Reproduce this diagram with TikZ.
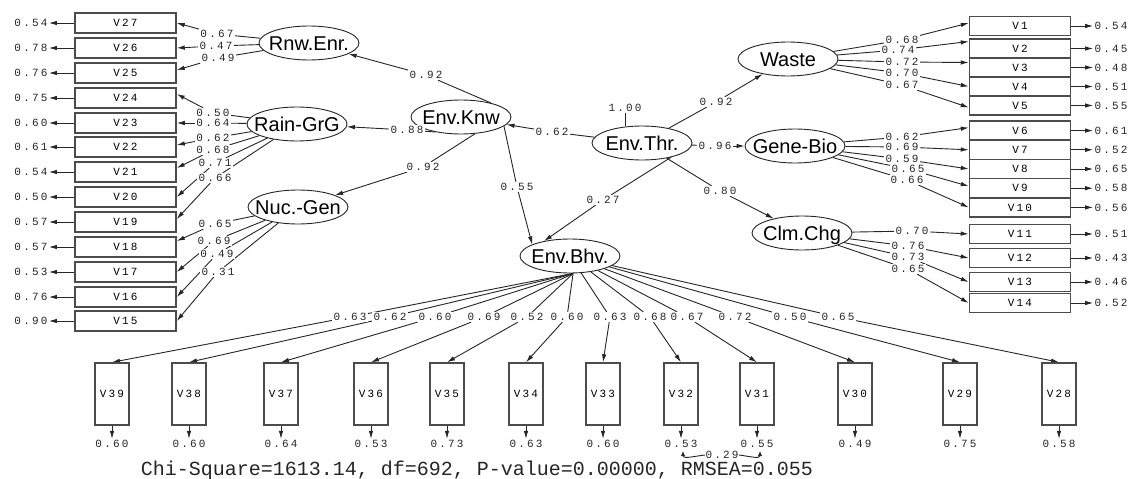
\documentclass[tikz,border=0pt]{standalone}
\usepackage{fontspec}
\usetikzlibrary{arrows.meta,shapes.geometric}
\newfontfamily\lisfont[LetterSpace=20]{Liberation Mono}
\newfontfamily\mfont{Liberation Mono}
\newfontfamily\lfont{Liberation Sans}
\newcommand{\latxt}[1]{\makebox[0pt]{\raisebox{-0.36em}[0pt][0pt]{#1}}}
\pgfdeclarelayer{bg}
\pgfsetlayers{bg,main}
\tikzset{
 lat/.style={ellipse, draw=black!85, line width=0.9pt, minimum width=100pt, minimum height=34pt, inner sep=0pt, font=\lfont\fontsize{20}{22}\selectfont},
 obs/.style={rectangle, draw=black!70, line width=1.5pt, minimum width=101pt, minimum height=20pt, inner sep=0pt, font=\lisfont\fontsize{11}{12}\selectfont},
 obsr/.style={obs, minimum height=19.3pt},
 obsv/.style={obs, minimum width=34pt, minimum height=62pt},
 num/.style={inner sep=1.2pt, fill=white, text=black!85, font=\lisfont\fontsize{11}{12}\selectfont},
 con/.style={line width=0.9pt, draw=black!85},
 arr/.style={con, -{Latex[length=8pt,width=4.5pt]}},
 rarr/.style={con, {Latex[length=5pt,width=4.5pt]}-},
 sarr/.style={con, -{Latex[length=5pt,width=4.5pt]}},
}
\begin{document}
\begin{tikzpicture}[x=1pt,y=-1pt]
\begin{pgfonlayer}{bg}
\fill[white] (0,0) rectangle (1130,479);
\end{pgfonlayer}
\useasboundingbox (0,0) rectangle (1130,479);

% latent variables
\node[lat] (Rnw) at (309,43) {\latxt{Rnw.Enr.}};
\node[lat] (Rain) at (297,124) {\latxt{Rain-GrG}};
\node[lat] (Knw) at (461,117) {\latxt{Env.Knw}};
\node[lat] (Nuc) at (298,207) {\latxt{Nuc.-Gen}};
\node[lat] (Thr) at (642,143) {\latxt{Env.Thr.}};
\node[lat] (Bhv) at (570,256) {\latxt{Env.Bhv.}};
\node[lat] (Waste) at (788,59) {\latxt{Waste}};
\node[lat] (Gene) at (795,146) {\latxt{Gene-Bio}};
\node[lat] (Clm) at (802,233) {\latxt{Clm.Chg}};

% left indicators
\foreach \n/\y/\e in {27/23/0.54, 26/48/0.78, 25/73/0.76, 24/98/0.75, 23/123/0.60, 22/147/0.61, 21/172/0.54, 20/197/0.50, 19/222/0.57, 18/247/0.57, 17/272/0.53, 16/297/0.76, 15/321/0.90} {
  \node[obs] (V\n) at (125.5,\y) {V\n};
  \node[num] (e\n) at (31,\y) {\e};
  \begin{pgfonlayer}{bg}
  \draw[arr] (V\n.west) -- (e\n.east);
  \end{pgfonlayer}
}
% right indicators
\foreach \n/\y/\e in {1/26/0.54, 2/48.5/0.45, 3/67.5/0.48, 4/86.5/0.51, 5/105.5/0.55, 6/130.6/0.61, 7/149.8/0.52, 8/169/0.65, 9/188.2/0.58, 10/207.4/0.56, 11/234/0.51, 12/258/0.43, 13/282/0.46, 14/303/0.52} {
  \node[obsr] (V\n) at (1020,\y) {V\n};
  \node[num] (e\n) at (1111,\y) {\e};
  \begin{pgfonlayer}{bg}
  \draw[arr] (V\n.east) -- (e\n.west);
  \end{pgfonlayer}
}
% bottom indicators
\foreach \n/\x/\e in {39/112/0.60, 38/189/0.60, 37/281/0.64, 36/371/0.53, 35/447/0.73, 34/526/0.63, 33/603/0.60, 32/681/0.53, 31/757/0.55, 30/855/0.49, 29/960/0.75, 28/1059/0.58} {
  \node[obsv] (V\n) at (\x,394) {V\n};
  \node[num] (e\n) at (\x,444) {\e};
  \begin{pgfonlayer}{bg}
  \draw[arr] (V\n.south) -- (e\n.north);
  \end{pgfonlayer}
}

% left loadings
\foreach \n/\x/\y/\l/\s in {27/217/34/0.67/0, 26/216/46/0.47/0, 25/218/58/0.49/3} {
  \node[num] (p\n) at (\x,\y) {\l};
  \begin{pgfonlayer}{bg}
  \draw[con] (Rnw) -- (p\n);
  \draw[arr] (p\n) -- ([yshift=\s pt]V\n.east);
  \end{pgfonlayer}
}
\foreach \n/\x/\y/\l/\s in {24/213/113/0.50/4, 23/213/123/0.64/0, 22/213/138/0.62/2, 21/213/150/0.68/4, 20/215/163/0.71/0, 19/215/178/0.66/3} {
  \node[num] (p\n) at (\x,\y) {\l};
  \begin{pgfonlayer}{bg}
  \draw[con] (Rain) -- (p\n);
  \draw[arr] (p\n) -- ([yshift=\s pt]V\n.east);
  \end{pgfonlayer}
}
\foreach \n/\x/\y/\l/\s in {18/215/224/0.65/6, 17/214/241/0.69/0, 16/217/254/0.49/0, 15/218/272/0.31/0} {
  \node[num] (p\n) at (\x,\y) {\l};
  \begin{pgfonlayer}{bg}
  \draw[con] (Nuc) -- (p\n);
  \draw[arr] (p\n) -- ([yshift=\s pt]V\n.east);
  \end{pgfonlayer}
}
% right loadings
\foreach \n/\x/\y/\l/\s in {1/902/40/0.68/3, 2/898/50/0.74/7, 3/902/62/0.72/5, 4/902/73/0.70/0, 5/902/85/0.67/-2} {
  \node[num] (p\n) at (\x,\y) {\l};
  \begin{pgfonlayer}{bg}
  \draw[con] (Waste) -- (p\n);
  \draw[arr] (p\n) -- ([yshift=\s pt]V\n.west);
  \end{pgfonlayer}
}
\foreach \n/\x/\y/\l/\s in {6/902/137/0.62/3, 7/902/147/0.69/0, 8/902/159/0.59/0, 9/908/169/0.65/2, 10/907/180/0.66/0} {
  \node[num] (p\n) at (\x,\y) {\l};
  \begin{pgfonlayer}{bg}
  \draw[con] (Gene) -- (p\n);
  \draw[arr] (p\n) -- ([yshift=\s pt]V\n.west);
  \end{pgfonlayer}
}
\foreach \n/\x/\y/\l/\s in {11/912/231/0.70/0, 12/908/246/0.76/0, 13/908/257/0.73/0, 14/908/269/0.65/0} {
  \node[num] (p\n) at (\x,\y) {\l};
  \begin{pgfonlayer}{bg}
  \draw[con] (Clm) -- (p\n);
  \draw[arr] (p\n) -- ([yshift=\s pt]V\n.west);
  \end{pgfonlayer}
}
% bottom loadings
\foreach \n/\x/\l in {39/350/0.63, 38/390/0.62, 37/435/0.60, 36/484/0.69, 35/527/0.52, 34/567/0.60} {
  \node[num] (b\n) at (\x,317) {\l};
  \begin{pgfonlayer}{bg}
  \draw[con] (Bhv.-80) -- (b\n);
  \draw[arr] (b\n) -- (V\n.north);
  \end{pgfonlayer}
}
\foreach \n/\x/\l in {33/610/0.63, 32/650/0.68, 31/687/0.67, 30/735/0.72, 29/790/0.50, 28/838/0.65} {
  \node[num] (b\n) at (\x,317) {\l};
  \begin{pgfonlayer}{bg}
  \draw[con] (Bhv) -- (b\n);
  \draw[arr] (b\n) -- (V\n.north);
  \end{pgfonlayer}
}

% structural paths
\node[num] (k1) at (426,75) {0.92};
\node[num] (k2) at (407,130) {0.88};
\node[num] (k3) at (423,167) {0.92};
\node[num] (k4) at (517,187) {0.55};
\node[num] (t1) at (552,132) {0.62};
\node[num] (t2) at (603,200) {0.27};
\node[num] (t3) at (716,102) {0.92};
\node[num] (t4) at (715,146) {0.96};
\node[num] (t5) at (720,191) {0.80};
\node[num] (t0) at (625,108) {1.00};
\begin{pgfonlayer}{bg}
\draw[con] (Knw.25) -- (k1);  \draw[arr] (k1) -- (Rnw);
\draw[con] (Knw.-150) -- (k2); \draw[arr] (k2) -- (Rain);
\draw[con] (Knw.-50) -- (k3); \draw[arr] (k3) -- (Nuc);
\draw[con] (Knw.-12) -- (k4); \draw[arr] (k4) -- (Bhv.163);
\draw[con] (Thr) -- (t1); \draw[arr] (t1) -- (Knw);
\draw[con] (Thr.-26) -- (t2); \draw[arr] (t2) -- (Bhv.150);
\draw[con] (Thr) -- (t3); \draw[arr] (t3) -- (Waste);
\draw[con] (Thr) -- (t4); \draw[arr] (t4) -- (Gene);
\draw[con] (Thr) -- (t5); \draw[arr] (t5) -- (Clm);
\draw[con] (t0) -- (t0 |- Thr.north);
\end{pgfonlayer}

% error covariance
\node[num, inner sep=0.5pt] (c29) at (722,455) {0.29};
\coordinate (k31) at (683,451);
\coordinate (k32) at (760,451);
\begin{pgfonlayer}{bg}
\draw[rarr] (k31) .. controls (683,459) and (690,457) .. (c29.west);
\draw[sarr] (c29.east) .. controls (753,457) and (760,459) .. (k32);
\end{pgfonlayer}

% fit statistics
\node[text=black!85, inner sep=0pt, font=\mfont\fontsize{20}{22}\selectfont] (chi) at (477,470) {Chi-Square=1613.14, df=692, P-value=0.00000, RMSEA=0.055};
\end{tikzpicture}
\end{document}
